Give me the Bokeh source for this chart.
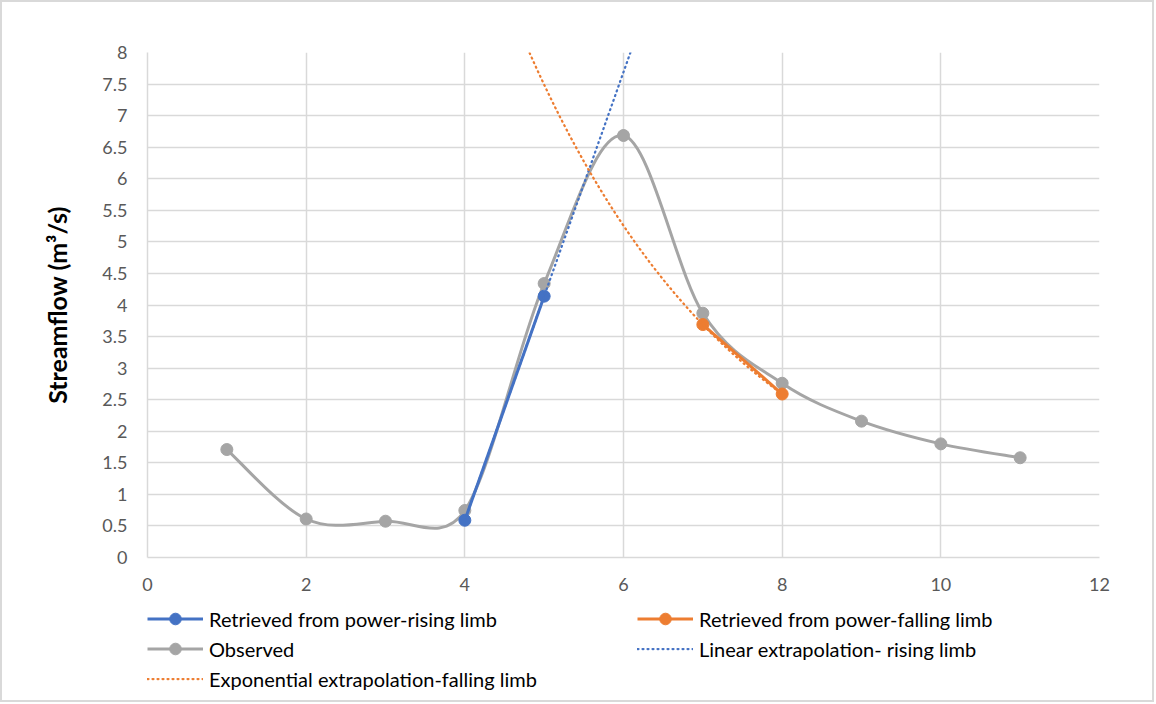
import numpy as np
from bokeh.plotting import figure
from bokeh.layouts import column
from bokeh.models import Legend, LegendItem, ColumnDataSource, FixedTicker, Range1d
from bokeh.embed import file_html
from bokeh.resources import INLINE

# ---- data ----
days = [1, 2, 3, 4, 5, 6, 7, 8, 9, 10, 11]
observed = [1.71, 0.61, 0.575, 0.745, 4.34, 6.685, 3.87, 2.76, 2.16, 1.80, 1.58]
rise_days = [4, 5]
rise_flow = [0.59, 4.14]
fall_days = [7, 8]
fall_flow = [3.69, 2.59]
x_ticks = [0, 2, 4, 6, 8, 10, 12]
y_ticks = [0, 0.5, 1, 1.5, 2, 2.5, 3, 3.5, 4, 4.5, 5, 5.5, 6, 6.5, 7, 7.5, 8]

BLUE = "#4472c4"
ORANGE = "#ed7d31"
GRAY = "#a5a5a5"
FONT = "Lato"

p = figure(width=1150, height=600, output_backend="svg", toolbar_location=None,
           x_range=Range1d(0, 12), y_range=Range1d(0, 8),
           min_border_left=145, min_border_right=53, min_border_top=50, min_border_bottom=45)
p.outline_line_color = None

for ax in (p.xaxis[0], p.yaxis[0]):
    ax.axis_line_color = "#d9d9d9"
    ax.axis_line_width = 1.5
    ax.major_tick_line_color = None
    ax.minor_tick_line_color = None
    ax.major_tick_out = 0
    ax.major_tick_in = 0
    ax.major_label_text_font = FONT
    ax.major_label_text_font_size = "18px"
    ax.major_label_text_color = "#595959"
p.xaxis.ticker = FixedTicker(ticks=x_ticks)
p.yaxis.ticker = FixedTicker(ticks=y_ticks)
p.xaxis.major_label_standoff = 20
p.yaxis.major_label_standoff = 20
p.yaxis.axis_label = "Streamflow (m³/s)"
p.yaxis.axis_label_text_font = FONT
p.yaxis.axis_label_text_font_size = "25px"
p.yaxis.axis_label_text_font_style = "bold"
p.yaxis.axis_label_text_color = "#000000"
p.yaxis.axis_label_standoff = 27

p.xgrid.ticker = FixedTicker(ticks=x_ticks)
p.ygrid.ticker = FixedTicker(ticks=y_ticks)
p.xgrid.grid_line_color = "#d9d9d9"
p.ygrid.grid_line_color = "#d9d9d9"
p.xgrid.grid_line_width = 1.5
p.ygrid.grid_line_width = 1.5

# ---- smoothed observed curve (Excel-like bezier control points) ----
sx, sy = 79.33, 63.125
pts = np.array([[d * sx, v * sy] for d, v in zip(days, observed)])
x0s, y0s, x1s, y1s, c0x, c0y, c1x, c1y = [], [], [], [], [], [], [], []
n = len(pts)
for i in range(n - 1):
    P0 = pts[i - 1] if i > 0 else pts[i]
    P1 = pts[i]
    P2 = pts[i + 1]
    P3 = pts[i + 2] if i + 2 < n else pts[i + 1]
    d12 = np.linalg.norm(P2 - P1)
    d02 = np.linalg.norm(P2 - P0)
    d13 = np.linalg.norm(P3 - P1)
    f0 = 1 / 6 if d02 / 6 < d12 / 2 else (d12 / 2) / d02
    f1 = 1 / 6 if d13 / 6 < d12 / 2 else (d12 / 2) / d13
    C1 = P1 + f0 * (P2 - P0)
    C2 = P2 - f1 * (P3 - P1)
    x0s.append(P1[0] / sx); y0s.append(P1[1] / sy)
    x1s.append(P2[0] / sx); y1s.append(P2[1] / sy)
    c0x.append(C1[0] / sx); c0y.append(C1[1] / sy)
    c1x.append(C2[0] / sx); c1y.append(C2[1] / sy)
bez = ColumnDataSource(dict(x0=x0s, y0=y0s, x1=x1s, y1=y1s, cx0=c0x, cy0=c0y, cx1=c1x, cy1=c1y))

p.bezier(x0="x0", y0="y0", x1="x1", y1="y1", cx0="cx0", cy0="cy0", cx1="cx1", cy1="cy1",
         source=bez, line_color=GRAY, line_width=3)
p.scatter(days, observed, size=12, color=GRAY)
p.line(rise_days, rise_flow, line_color=BLUE, line_width=3)
p.scatter(rise_days, rise_flow, size=12, color=BLUE)
p.line(fall_days, fall_flow, line_color=ORANGE, line_width=3)
p.scatter(fall_days, fall_flow, size=12, color=ORANGE)

# ---- trendlines fitted to retrieved points ----
DOT = dict(line_width=2.25, line_dash="1 4", line_cap="round")
slope, icpt = np.polyfit(rise_days, rise_flow, 1)
lx = np.linspace(rise_days[0], 6.5, 40)
p.line(lx, slope * lx + icpt, line_color=BLUE, **DOT)
b, ln_a = np.polyfit(fall_days, np.log(fall_flow), 1)
ex = np.linspace(4.5, fall_days[-1], 120)
p.line(ex, np.exp(ln_a + b * ex), line_color=ORANGE, **DOT)

# ---- legend strip (separate figure below the chart; proxies sit outside its range) ----
q = figure(width=1150, height=98, output_backend="svg", toolbar_location=None,
           x_range=Range1d(-3, -2), y_range=Range1d(-3, -2), x_axis_type=None, y_axis_type=None,
           min_border_left=0, min_border_right=0, min_border_top=0, min_border_bottom=0)
q.outline_line_color = None
q.grid.visible = False

def proxy(color, marker=True, dotted=False):
    rs = [q.line(days[:1], observed[:1], line_color=color, line_width=3 if not dotted else 2.25,
                 **({"line_dash": "1 4", "line_cap": "round"} if dotted else {}))]
    if marker:
        rs.append(q.scatter(days[:1], observed[:1], size=12, color=color))
    return rs

common = dict(padding=0, margin=0, spacing=1, label_height=29, glyph_height=29, glyph_width=56,
              label_standoff=6, border_line_color=None, background_fill_alpha=0,
              label_text_font=FONT, label_text_font_size="20px", label_text_color="#000000")
leg1 = Legend(items=[LegendItem(label="Retrieved from power-rising limb", renderers=proxy(BLUE)),
                     LegendItem(label="Observed", renderers=proxy(GRAY)),
                     LegendItem(label="Exponential extrapolation-falling limb",
                                renderers=proxy(ORANGE, marker=False, dotted=True))],
              location=(0, 7), **common)
leg2 = Legend(items=[LegendItem(label="Retrieved from power-falling limb", renderers=proxy(ORANGE)),
                     LegendItem(label="Linear extrapolation- rising limb",
                                renderers=proxy(BLUE, marker=False, dotted=True))],
              location=(490, 37), **common)
q.add_layout(leg1)
q.add_layout(leg2)

layout = column(p, q, spacing=0, styles={"border": "2px solid #d9d9d9"})
open("out.html", "w").write(file_html(layout, INLINE))
